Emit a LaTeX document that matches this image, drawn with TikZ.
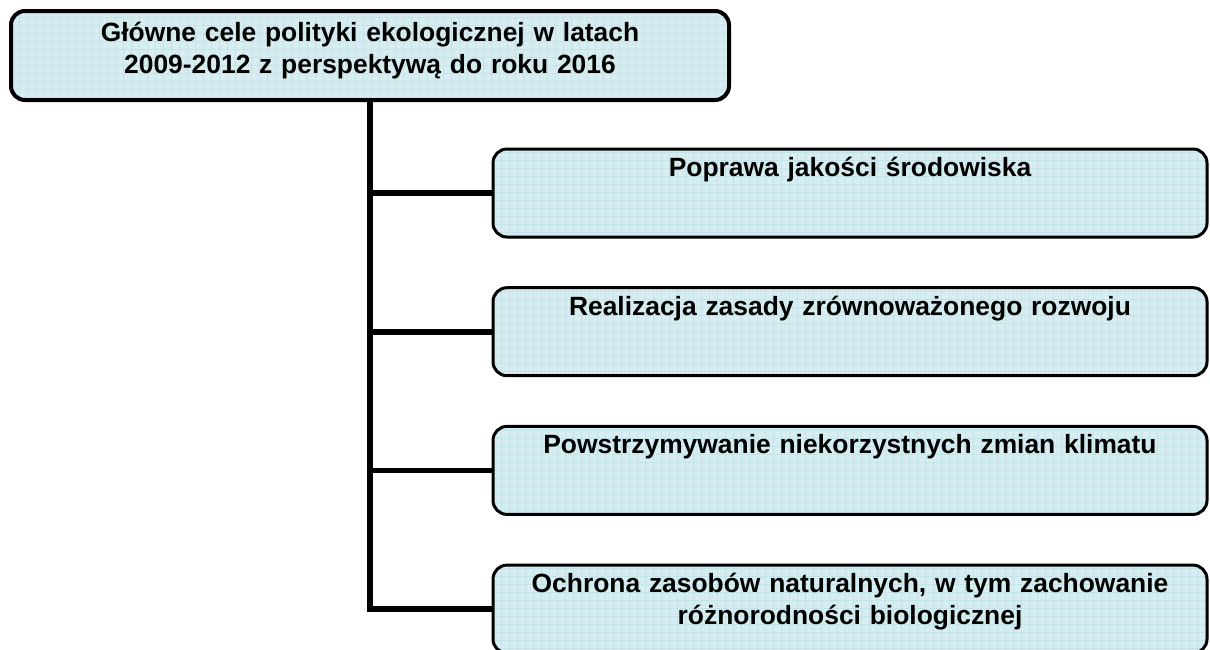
\documentclass[tikz,border=0pt]{standalone}
\usepackage{fontspec}
\setmainfont{Liberation Sans}
\usetikzlibrary{calc}
\tikzset{>=latex}
\definecolor{celfill}{RGB}{214,238,241}
\definecolor{celgrid}{RGB}{194,228,234}
\tikzset{
  siatka/.style={path picture={\draw[celgrid,line width=0.3pt] (path picture bounding box.south west) grid[step=4pt] (path picture bounding box.north east);}},
  glownybox/.style={draw,line width=2pt,rounded corners=7pt,fill=celfill,siatka,align=center,
    text width=359pt,inner xsep=0pt,inner ysep=0pt,text height=15pt,text depth=29.5pt,
    font=\fontsize{13.2}{16}\selectfont\bfseries},
  celbox/.style={glownybox,line width=1.5pt,text width=357pt,text height=13.75pt,text depth=30.25pt},
  polacz/.style={line width=2.8pt}
}

\begin{document}
\begin{tikzpicture}[x=0.5pt,y=-0.5pt]
    \useasboundingbox (0,0) rectangle (1210,649);
    \node[glownybox,anchor=north] (glowny) at (370,9)
      {Główne cele polityki ekologicznej w latach\\2009-2012 z perspektywą do roku 2016};
    \foreach \i/\tekst in {1/{Poprawa jakości środowiska},
                           2/{Realizacja zasady zrównoważonego rozwoju},
                           3/{Powstrzymywanie niekorzystnych zmian klimatu},
                           4/{Ochrona zasobów naturalnych, w tym zachowanie\\różnorodności biologicznej}} {
      \node[celbox,anchor=north west] (cel\i) at (491.5,{147.5+138.7*(\i-1)}) {\tekst};
    }
    \foreach \i in {1,...,4} {
      \draw[polacz] (glowny.south) |- (cel\i.west);
    }
\end{tikzpicture}
\end{document}
